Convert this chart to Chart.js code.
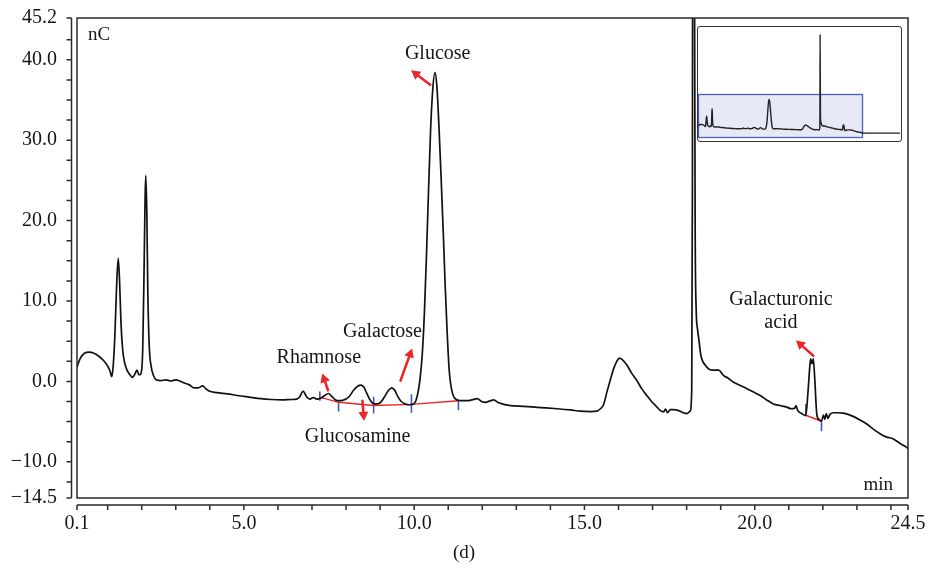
<!DOCTYPE html>
<html><head><meta charset="utf-8">
<script src="https://cdn.jsdelivr.net/npm/chart.js@4.4.1/dist/chart.umd.min.js"></script>
<style>
html,body{margin:0;padding:0;background:#fff;}
#wrap{position:relative;width:928px;height:578px;}
#main{position:absolute;left:0;top:0;}
#insetBox{position:absolute;left:697px;top:26px;width:205px;height:116px;border:1.5px solid #333;border-radius:3px;background:#fff;box-sizing:border-box;}
#inset{position:absolute;left:0;top:0;}
</style></head><body>
<div id="wrap">
<canvas id="main" width="928" height="578"></canvas>
<div id="insetBox"><canvas id="inset" width="202" height="113"></canvas></div>
</div>
<script>
// ---- data ----
const times = [0.10,0.20,0.32,0.45,0.60,0.75,0.90,1.00,1.07,1.12,1.16,1.21,1.26,1.31,1.35,1.39,1.44,1.50,1.58,1.66,1.73,1.80,1.86,1.92,1.98,2.03,2.07,2.10,2.12,2.15,2.18,2.22,2.28,2.35,2.42,2.56,2.71,2.86,3.00,3.15,3.25,3.39,3.54,3.66,3.79,3.88,3.98,4.20,4.52,4.81,5.15,5.50,5.80,6.10,6.40,6.55,6.64,6.74,6.84,6.94,7.04,7.14,7.26,7.37,7.48,7.58,7.69,7.80,7.90,8.00,8.10,8.22,8.34,8.43,8.52,8.61,8.72,8.82,8.93,9.03,9.13,9.25,9.34,9.43,9.52,9.62,9.74,9.86,9.98,10.05,10.12,10.18,10.24,10.30,10.36,10.42,10.48,10.54,10.61,10.67,10.73,10.79,10.85,10.91,10.97,11.03,11.09,11.16,11.26,11.40,11.56,11.70,11.85,11.98,12.09,12.21,12.34,12.45,12.58,12.83,13.22,13.71,14.20,14.59,14.88,15.17,15.37,15.47,15.56,15.66,15.76,15.85,15.95,16.03,16.11,16.25,16.39,16.54,16.68,16.83,16.97,17.13,17.22,17.32,17.38,17.44,17.52,17.61,17.75,17.90,18.01,18.10,18.15,18.17,18.19,18.22,18.25,18.28,18.32,18.36,18.42,18.55,18.74,18.94,19.08,19.22,19.38,19.57,19.77,19.95,20.16,20.35,20.55,20.74,20.94,21.07,21.18,21.21,21.26,21.38,21.50,21.56,21.61,21.64,21.68,21.72,21.76,21.82,21.88,21.96,22.02,22.06,22.10,22.15,22.21,22.31,22.44,22.60,22.74,22.89,23.09,23.29,23.47,23.68,23.86,24.07,24.26,24.46,24.50];
const signal = [1.8,2.9,3.5,3.65,3.5,3.1,2.5,1.9,1.3,0.6,1.8,5.5,11.5,15.3,12.5,7.5,4.0,2.3,1.3,0.8,0.5,0.9,1.4,0.8,1.0,4.0,14.0,23.0,25.6,21.0,11.0,4.5,1.8,0.7,0.2,0.1,0.2,0.05,0.2,0.0,-0.2,-0.4,-0.8,-0.8,-0.55,-0.9,-1.2,-1.4,-1.55,-1.75,-1.95,-2.15,-2.25,-2.3,-2.25,-2.2,-1.9,-1.2,-1.9,-2.2,-2.0,-2.2,-2.1,-1.75,-1.5,-1.85,-2.3,-2.4,-2.35,-2.2,-1.85,-1.1,-0.6,-0.45,-0.7,-1.5,-2.4,-2.8,-2.8,-2.55,-1.9,-1.1,-0.8,-1.1,-1.9,-2.5,-2.8,-2.9,-2.8,-2.4,-1.2,0.6,3.5,8.5,15.5,23.5,31.0,36.0,38.4,36.5,31.5,25.5,19.0,12.0,6.0,1.3,-0.8,-1.9,-2.3,-2.4,-2.4,-2.3,-2.15,-2.5,-2.6,-2.45,-2.3,-2.6,-2.8,-3.0,-3.1,-3.25,-3.4,-3.55,-3.7,-3.75,-3.7,-3.4,-2.9,-1.3,0.2,1.5,2.5,2.9,2.7,2.0,1.0,0.1,-0.9,-1.75,-2.5,-3.2,-3.6,-3.8,-3.45,-3.9,-3.5,-3.5,-3.6,-3.9,-4.0,-3.7,-1.0,25,128,70,20,9,6.5,5.2,3.2,2.0,1.4,1.4,0.75,0.4,-0.1,-0.5,-0.9,-1.3,-1.75,-2.3,-2.8,-3.0,-3.2,-3.4,-3.3,-3.0,-3.6,-4.0,-4.25,-1.5,1.5,2.8,2.2,2.8,0.5,-4.0,-4.7,-4.9,-4.2,-4.7,-4.0,-4.6,-4.1,-3.9,-3.9,-3.95,-4.1,-4.35,-4.8,-5.3,-5.9,-6.5,-6.9,-7.15,-7.7,-8.2,-8.35];
// overview inset continues after the displayed window
const tailTimes = [25.0, 30.1];
const tailSignal = [-8.4, -8.4];
// integration baselines and peak delimiters
const base1Times = [7.23, 7.78, 8.81, 9.92, 11.30];
const base1Vals = [-1.95, -2.6, -3.0, -2.85, -2.4];
const base2Times = [21.50, 21.96];
const base2Vals = [-4.2, -4.95];
const markTimes = [7.23, 7.78, 8.81, 9.92, 11.30, 21.50, 21.96];
const markTop = [-1.25, -2.5, -1.9, -1.6, -2.25, -2.8, -4.9];
const markBottom = [-2.4, -3.75, -4.0, -3.9, -3.6, -4.2, -6.2];
// axes
const xTickValues = [0.1,1,2,3,4,5,6,7,8,9,10,11,12,13,14,15,16,17,18,19,20,21,22,23,24,24.5];
const xLabelValues = [0.1,5,10,15,20,24.5];
const yTickValues = [45.2,42.5,40,37.5,35,32.5,30,27.5,25,22.5,20,17.5,15,12.5,10,7.5,5,2.5,0,-2.5,-5,-7.5,-10,-12.5,-14.5];
const yLabelValues = [45.2,40,30,20,10,0,-10,-14.5];
// peak annotations (data coordinates)
const peakNames = ['Glucose','Rhamnose','Glucosamine','Galactose','Galacturonic|acid'];
const arrowFrom = [[10.47,36.9],[7.47,-1.1],[8.48,-2.4],[9.60,0.1],[21.72,3.2]];
const arrowTo = [[9.91,38.7],[7.30,1.0],[8.53,-4.9],[9.94,4.1],[21.21,5.1]];
const labelAt = [[10.69,40.8],[7.2,3.0],[8.34,-6.9],[9.07,6.2],[20.77,10.1]];

const FONT = '"Liberation Serif", "DejaVu Serif", serif';
const TXT = '#161616';
const pts = (xs, ys) => xs.map((x,i)=>({x, y: ys[i]}));
const has = (arr, v) => arr.some(a => Math.abs(a - v) < 1e-6);
const marks = [];
markTimes.forEach((t,i)=>{ marks.push({x:t,y:markTop[i]},{x:t,y:markBottom[i]},{x:t,y:null}); });
const noPad = s => { s.paddingTop = 0; s.paddingBottom = 0; s.paddingLeft = 0; s.paddingRight = 0; };

const framePlugin = {
  id:'frame',
  afterDraw(chart){
    const {ctx, chartArea:a, scales:{x,y}} = chart;
    ctx.save();
    ctx.strokeStyle = '#2a2a2a'; ctx.lineWidth = 1.5;
    ctx.strokeRect(a.left, a.top, a.right - a.left, a.bottom - a.top);
    // y axis line + ticks
    const ax = a.left - 5.5;
    ctx.beginPath(); ctx.moveTo(ax, y.getPixelForValue(45.2)); ctx.lineTo(ax, y.getPixelForValue(-14.5));
    y.ticks.forEach(t=>{ const py = y.getPixelForValue(t.value); ctx.moveTo(ax, py); ctx.lineTo(ax-5, py); });
    ctx.stroke();
    // x axis line + ticks
    const ay = a.bottom + 7;
    ctx.beginPath(); ctx.moveTo(x.getPixelForValue(0.1), ay); ctx.lineTo(x.getPixelForValue(24.5), ay);
    x.ticks.forEach(t=>{ const px = x.getPixelForValue(t.value); ctx.moveTo(px, ay); ctx.lineTo(px, ay+5); });
    ctx.stroke();
    // unit texts
    ctx.fillStyle = TXT; ctx.font = '19px ' + FONT; ctx.textBaseline = 'middle';
    ctx.textAlign = 'left'; ctx.fillText('nC', a.left + 11, a.top + 17);
    ctx.textAlign = 'right'; ctx.fillText('min', a.right - 15, a.bottom - 13);
    ctx.textAlign = 'center'; ctx.fillText('(d)', 464, 553);
    // arrows and peak names
    ctx.strokeStyle = '#e8272a'; ctx.fillStyle = '#e8272a'; ctx.lineWidth = 2.6; ctx.lineCap = 'round';
    arrowFrom.forEach((f,i)=>{
      const x0 = x.getPixelForValue(f[0]), y0 = y.getPixelForValue(f[1]);
      const x1 = x.getPixelForValue(arrowTo[i][0]), y1 = y.getPixelForValue(arrowTo[i][1]);
      const ang = Math.atan2(y1-y0, x1-x0), L = 9, W = 5;
      const bx = x1 - L*Math.cos(ang), by = y1 - L*Math.sin(ang);
      ctx.beginPath(); ctx.moveTo(x0,y0); ctx.lineTo(bx,by); ctx.stroke();
      ctx.beginPath(); ctx.moveTo(x1,y1);
      ctx.lineTo(bx + W*Math.sin(ang), by - W*Math.cos(ang));
      ctx.lineTo(bx - W*Math.sin(ang), by + W*Math.cos(ang));
      ctx.closePath(); ctx.fill();
    });
    ctx.fillStyle = TXT; ctx.font = '20px ' + FONT; ctx.textAlign = 'center';
    peakNames.forEach((n,i)=>{
      const lx = x.getPixelForValue(labelAt[i][0]), ly = y.getPixelForValue(labelAt[i][1]);
      n.split('|').forEach((part,j)=> ctx.fillText(part, lx, ly + j*23));
    });
    ctx.restore();
  }
};

const tickFont = {family: FONT, size: 20};
new Chart(document.getElementById('main'), {
  type:'line',
  data:{datasets:[
    {data: pts(times, signal), borderColor:'#111', borderWidth:1.7, pointRadius:0, cubicInterpolationMode:'monotone'},
    {data: pts(base1Times, base1Vals), borderColor:'#e8272a', borderWidth:1.4, pointRadius:0},
    {data: pts(base2Times, base2Vals), borderColor:'#e8272a', borderWidth:1.6, pointRadius:0},
    {data: marks, borderColor:'#3d5cb4', borderWidth:1.6, pointRadius:0, spanGaps:false}
  ]},
  options:{
    responsive:false, animation:false, devicePixelRatio:1,
    layout:{padding:{top:18, right:20, left:0, bottom:0}},
    plugins:{legend:{display:false}, tooltip:{enabled:false}},
    scales:{
      x:{type:'linear', min:0.1, max:24.5,
        afterBuildTicks: s => { s.ticks = xTickValues.map(v=>({value:v})); },
        afterFit: s => { s.height = 80; noPad(s); },
        grid:{display:false, drawTicks:false}, border:{display:false},
        ticks:{autoSkip:false, maxRotation:0, padding:14, font:tickFont, color:TXT,
          callback: v => has(xLabelValues, v) ? v.toFixed(1) : ''}},
      y:{type:'linear', min:-14.5, max:45.2,
        afterBuildTicks: s => { s.ticks = yTickValues.map(v=>({value:v})); },
        afterFit: s => { s.width = 77; noPad(s); },
        grid:{display:false, drawTicks:false}, border:{display:false},
        ticks:{autoSkip:false, padding:20, font:tickFont, color:TXT,
          callback: v => has(yLabelValues, v) ? (v < 0 ? '\u2212' + Math.abs(v).toFixed(1) : v.toFixed(1)) : ''}}
    }
  },
  plugins:[framePlugin]
});

// overview inset
const insetPlugin = {
  id:'zoomBox',
  beforeDatasetsDraw(chart){
    const {ctx, scales:{x,y}} = chart;
    const l = x.getPixelForValue(0.1), r = x.getPixelForValue(24.5);
    const t = y.getPixelForValue(45.2), b = y.getPixelForValue(-14.5);
    ctx.save();
    ctx.fillStyle = 'rgba(226,227,244,0.8)'; ctx.fillRect(l, t, r-l, b-t);
    ctx.strokeStyle = '#4a5fb8'; ctx.lineWidth = 1.3; ctx.strokeRect(l, t, r-l, b-t);
    ctx.restore();
  }
};
new Chart(document.getElementById('inset'), {
  type:'line',
  data:{datasets:[
    {data: pts(times.concat(tailTimes), signal.concat(tailSignal)), borderColor:'#222', borderWidth:1.4, pointRadius:0, cubicInterpolationMode:'monotone'}
  ]},
  options:{
    responsive:false, animation:false, devicePixelRatio:1,
    layout:{padding:0},
    plugins:{legend:{display:false}, tooltip:{enabled:false}},
    scales:{
      x:{type:'linear', display:false, min:0.026, max:30.08},
      y:{type:'linear', display:false, min:-17.97, max:138.9}
    }
  },
  plugins:[insetPlugin]
});
</script>
</body></html>
